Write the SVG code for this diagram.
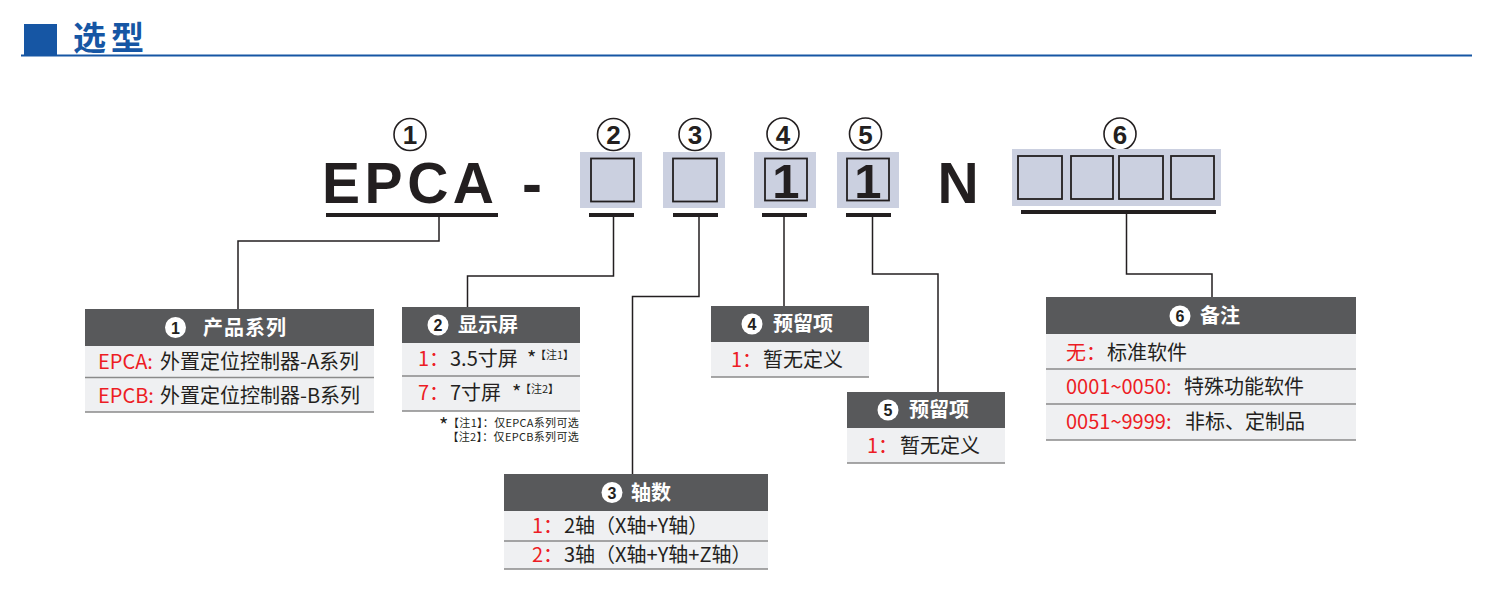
<svg xmlns="http://www.w3.org/2000/svg" width="1486" height="606" viewBox="0 0 1486 606">
<style>
.code{font-family:"Liberation Sans",Arial,sans-serif;font-weight:bold;fill:#231f20}
.cn{font-family:"Liberation Sans",Arial,sans-serif;font-weight:bold;font-size:26px;fill:#231f20;text-anchor:middle}
.ring{fill:none;stroke:#231f20;stroke-width:1.6}
.bg{fill:#cbd0e0}
.sq{fill:#cbd0e0;stroke:#231f20;stroke-width:1.8}
.ul{stroke:#231f20;stroke-width:4}
.conn path{fill:none;stroke:#231f20;stroke-width:1.5}
.hd{fill:#58595b}
.row{fill:#eff0f2}
.sep{stroke:#8a8a8a;stroke-width:1.6}
.ht{font-family:"Noto Sans CJK SC","Noto Sans",sans-serif;font-weight:bold;font-size:20px;fill:#ffffff}
.hc{fill:#ffffff}
.hn{font-family:"Liberation Sans",Arial,sans-serif;font-weight:bold;font-size:16px;fill:#231f20;text-anchor:middle}
.t{font-family:"Noto Sans CJK SC","Noto Sans",sans-serif;font-size:20px;fill:#231f20}
.r{font-family:"Noto Sans CJK SC","Noto Sans",sans-serif;font-size:20px;fill:#ed1c24}
.sm{font-family:"Noto Sans CJK SC","Noto Sans",sans-serif;font-size:11px;fill:#231f20}
</style>

<g id="title">
  <rect x="24" y="24" width="33" height="31" fill="#1656a4"/>
  <line x1="21" y1="55.5" x2="1472" y2="55.5" stroke="#1656a4" stroke-width="2"/>
  <text x="73" y="49.5" font-family="'Noto Sans CJK SC',sans-serif" font-weight="bold" font-size="33" fill="#1656a4" letter-spacing="5">选型</text>
</g>

<g id="code">
  <circle class="ring" cx="410" cy="134.5" r="16"/><text class="cn" x="410" y="144">1</text>
  <circle class="ring" cx="613.5" cy="134.5" r="16"/><text class="cn" x="613.5" y="144">2</text>
  <circle class="ring" cx="695" cy="134.5" r="16"/><text class="cn" x="695" y="144">3</text>
  <circle class="ring" cx="783" cy="134" r="16"/><text class="cn" x="783" y="143.5">4</text>
  <circle class="ring" cx="865.5" cy="134" r="16"/><text class="cn" x="865.5" y="143.5">5</text>
  <circle class="ring" cx="1120" cy="134" r="16"/><text class="cn" x="1120" y="143.5">6</text>

  <text class="code" x="322" y="203" font-size="57" textLength="172" lengthAdjust="spacing">EPCA</text>
  <line class="ul" x1="326" y1="215" x2="498" y2="215"/>
  <text class="code" x="522" y="204" font-size="60">-</text>

  <rect class="bg" x="580" y="152" width="62" height="56"/>
  <rect class="sq" x="591" y="158.5" width="43" height="43"/>
  <line class="ul" x1="589" y1="215" x2="634" y2="215"/>

  <rect class="bg" x="663" y="152" width="62" height="56"/>
  <rect class="sq" x="673" y="158.5" width="44" height="43"/>
  <line class="ul" x1="673" y1="215" x2="718" y2="215"/>

  <rect class="bg" x="754" y="152" width="62" height="56"/>
  <rect class="sq" x="765" y="158.5" width="42" height="42"/>
  <text class="code" x="786" y="198" font-size="49" text-anchor="middle">1</text>
  <line class="ul" x1="762" y1="215" x2="807" y2="215"/>

  <rect class="bg" x="837" y="152" width="62" height="56"/>
  <rect class="sq" x="847" y="158.5" width="42" height="42"/>
  <text class="code" x="868" y="198" font-size="49" text-anchor="middle">1</text>
  <line class="ul" x1="846" y1="215" x2="891" y2="215"/>

  <text class="code" x="958" y="203" font-size="57" text-anchor="middle">N</text>

  <rect class="bg" x="1012" y="149" width="209" height="57"/>
  <rect class="sq" x="1018" y="156" width="44" height="43"/>
  <rect class="sq" x="1071" y="156" width="42" height="43"/>
  <rect class="sq" x="1119" y="156" width="44" height="43"/>
  <rect class="sq" x="1171" y="156" width="43" height="43"/>
  <line class="ul" x1="1021" y1="212" x2="1216" y2="212"/>
</g>

<g id="connectors" class="conn">
  <path d="M439,217 V241 H238 V309"/>
  <path d="M613.5,217 V276 H467.5 V307"/>
  <path d="M699,217 V296.5 H632.5 V474"/>
  <path d="M784,217 V306"/>
  <path d="M872.5,217 V274 H938 V392"/>
  <path d="M1126.5,214 V274 H1212 V297"/>
</g>

<g id="box1">
  <rect class="hd" x="85" y="309" width="289" height="37"/>
  <rect class="row" x="85" y="346" width="289" height="66"/>
  <line class="sep" x1="85" y1="377.5" x2="374" y2="377.5"/>
  <line class="sep" x1="85" y1="412" x2="374" y2="412"/>
  <circle class="hc" cx="175.5" cy="327.5" r="10.5"/><text class="hn" x="175.5" y="333.5">1</text>
  <text class="ht" x="203" y="334.5" letter-spacing="1">产品系列</text>
  <text class="r" x="98" y="369">EPCA:</text><text class="t" x="160" y="369">外置定位控制器-A系列</text>
  <text class="r" x="98" y="403">EPCB:</text><text class="t" x="160" y="403">外置定位控制器-B系列</text>
</g>

<g id="box2">
  <rect class="hd" x="402" y="307" width="178" height="36"/>
  <rect class="row" x="402" y="343" width="178" height="68"/>
  <line class="sep" x1="402" y1="376" x2="580" y2="376"/>
  <line class="sep" x1="402" y1="411" x2="580" y2="411"/>
  <circle class="hc" cx="438" cy="325" r="10.5"/><text class="hn" x="438" y="331">2</text>
  <text class="ht" x="458" y="332">显示屏</text>
  <text class="r" x="418" y="366">1：</text><text class="t" x="450" y="366">3.5寸屏</text>
  <text class="t" x="527" y="366" font-size="18">*</text><text class="sm" x="535" y="359">【注1】</text>
  <text class="r" x="418" y="400">7：</text><text class="t" x="450" y="400">7寸屏</text>
  <text class="t" x="512" y="400" font-size="18">*</text><text class="sm" x="520" y="393">【注2】</text>
  <text class="t" x="439" y="433" font-size="16">*</text>
  <text class="sm" x="579" y="427" text-anchor="end" letter-spacing="0.3">【注1】：仅EPCA系列可选</text>
  <text class="sm" x="579" y="441" text-anchor="end" letter-spacing="0.3">【注2】：仅EPCB系列可选</text>
</g>

<g id="box3">
  <rect class="hd" x="504" y="474" width="264" height="37"/>
  <rect class="row" x="504" y="511" width="264" height="58"/>
  <line class="sep" x1="504" y1="541" x2="768" y2="541"/>
  <line class="sep" x1="504" y1="569" x2="768" y2="569"/>
  <circle class="hc" cx="612" cy="492.5" r="10.5"/><text class="hn" x="612" y="498.5">3</text>
  <text class="ht" x="631" y="499.5">轴数</text>
  <text class="r" x="532" y="533">1：</text><text class="t" x="564" y="533">2轴（X轴+Y轴）</text>
  <text class="r" x="532" y="562">2：</text><text class="t" x="564" y="562">3轴（X轴+Y轴+Z轴）</text>
</g>

<g id="box4">
  <rect class="hd" x="711" y="306" width="158" height="36"/>
  <rect class="row" x="711" y="342" width="158" height="35"/>
  <line class="sep" x1="711" y1="377" x2="869" y2="377"/>
  <circle class="hc" cx="752" cy="324" r="10.5"/><text class="hn" x="752" y="330">4</text>
  <text class="ht" x="773" y="331">预留项</text>
  <text class="r" x="731" y="367">1：</text><text class="t" x="763" y="367">暂无定义</text>
</g>

<g id="box5">
  <rect class="hd" x="847" y="392" width="158" height="36"/>
  <rect class="row" x="847" y="428" width="158" height="35"/>
  <line class="sep" x1="847" y1="463" x2="1005" y2="463"/>
  <circle class="hc" cx="888" cy="410" r="10.5"/><text class="hn" x="888" y="416">5</text>
  <text class="ht" x="909" y="417">预留项</text>
  <text class="r" x="867" y="453">1：</text><text class="t" x="900" y="453">暂无定义</text>
</g>

<g id="box6">
  <rect class="hd" x="1046" y="297" width="310" height="37"/>
  <rect class="row" x="1046" y="334" width="310" height="106"/>
  <line class="sep" x1="1046" y1="369" x2="1356" y2="369"/>
  <line class="sep" x1="1046" y1="404" x2="1356" y2="404"/>
  <line class="sep" x1="1046" y1="440" x2="1356" y2="440"/>
  <circle class="hc" cx="1180" cy="316" r="10.5"/><text class="hn" x="1180" y="322">6</text>
  <text class="ht" x="1200" y="323">备注</text>
  <text class="r" x="1066" y="360">无：</text><text class="t" x="1107" y="360">标准软件</text>
  <text class="r" x="1066" y="394">0001~0050:</text><text class="t" x="1184" y="394">特殊功能软件</text>
  <text class="r" x="1066" y="429">0051~9999:</text><text class="t" x="1185" y="429">非标、定制品</text>
</g>
</svg>
